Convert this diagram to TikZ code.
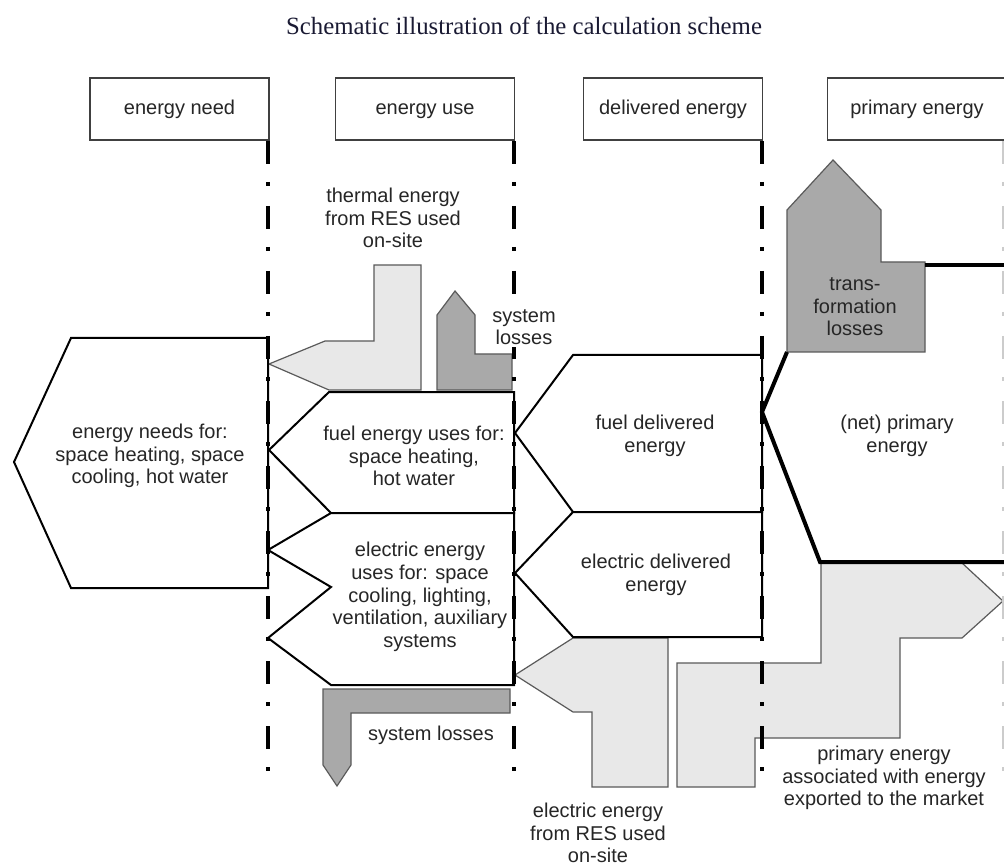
\documentclass[tikz,border=0pt]{standalone}
\usepackage{fontspec}
\setmainfont{Liberation Sans}
\newfontfamily\titlefont{Liberation Serif}
\usetikzlibrary{positioning}
\definecolor{sLight}{HTML}{E8E8E8}
\definecolor{sDark}{HTML}{A9A9A9}
\definecolor{sEdge}{HTML}{5A5A5A}
\definecolor{sTitle}{HTML}{1A1A33}

\begin{document}
\begin{tikzpicture}[
  x=0.5pt, y=-0.5pt,
  every node/.style={font=\fontsize{10}{11.3}\selectfont, align=center,
                     inner sep=0pt, text=black!85},
  hbox/.style={draw=black!75, line width=0.7pt, fill=white,
               minimum width=89.5pt, minimum height=31pt,
               text height=7.5pt, text depth=2.2pt},
  flowbox/.style={draw=black, line width=1pt, fill=white},
  netline/.style={draw=black, line width=2pt},
  lightflow/.style={draw=sEdge, line width=0.6pt, fill=sLight},
  lossflow/.style={draw=sEdge, line width=0.6pt, fill=sDark},
  boundary/.style={line width=2pt,
                   dash pattern=on 11.5pt off 9pt on 2pt off 10pt},
]
  \fill[white] (0,0) rectangle (1004,865);
  \useasboundingbox (0,0) rectangle (1004,865);

  % Title
  \node[font=\titlefont\fontsize{12.4}{14}\selectfont, text=sTitle] (title)
    at (524,26) {Schematic illustration of the calculation scheme};

  % Headers
  \node[hbox] (hneed) at (179.5,109) {energy need};
  \node[hbox] (huse) at (425,109) {energy use};
  \node[hbox] (hdel) at (673,109) {delivered energy};
  \node[hbox] (hprim) at (917,109) {primary energy};

  % Renewable and loss flows
  \draw[lightflow] (421,390) -- (421,265) -- (374,265) -- (374,341)
    -- (325,341) -- (269,364) -- (329,390) -- cycle;
  \draw[lossflow] (437,390) -- (437,315) -- (455,291) -- (475,315)
    -- (475,354) -- (512,354) -- (512,390) -- cycle;
  \draw[lossflow] (323,689) -- (510,689) -- (510,713) -- (351,713)
    -- (351,765) -- (337,786) -- (323,765) -- cycle;
  \draw[lightflow] (515,675) -- (573,638) -- (668,638) -- (668,787)
    -- (592,787) -- (592,712) -- (573,712) -- cycle;
  \draw[lightflow] (677,787) -- (677,663) -- (821,663) -- (821,563)
    -- (962,563) -- (1003,601) -- (962,638) -- (900,638) -- (900,738)
    -- (755,738) -- (755,787) -- cycle;
  \draw[lossflow] (787,352) -- (787,210) -- (833,160) -- (881,210)
    -- (881,262) -- (925,262) -- (925,352) -- cycle;

  % Main flows
  \draw[flowbox] (268,338) -- (71,338) -- (14,462) -- (71,588)
    -- (268,588) -- cycle;
  \draw[flowbox] (514,392) -- (329,392) -- (269,450) -- (331,513)
    -- (514,513) -- cycle;
  \draw[flowbox] (514,513) -- (331,513) -- (268,550) -- (331,587)
    -- (268,638) -- (331,685) -- (514,685) -- cycle;
  \draw[flowbox] (762,355) -- (573,355) -- (515,433) -- (573,512)
    -- (762,512) -- cycle;
  \draw[flowbox] (762,512) -- (573,512) -- (515,573) -- (573,637)
    -- (762,637) -- cycle;
  \draw[netline] (1010,265) -- (925,265);
  \draw[netline] (787,352) -- (762,412) -- (820,562) -- (1010,562);

  % Boundaries
  \draw[boundary] (268,141) -- (268,772);
  \draw[boundary] (514,141) -- (514,772);
  \draw[boundary] (762,141) -- (762,772);
  \draw[boundary, black!20, line width=0.8pt] (1003,141) -- (1003,790);

  % Labels
  \node (need) at (150,456) {energy needs for:\\space heating, space\\cooling, hot water};
  \node (fueluse) at (414,456) {fuel energy uses for:\\space heating,\\hot water};
  \node (elecuse) at (420,597) {electric energy\\uses for: space\\cooling, lighting,\\ventilation, auxiliary\\systems};
  \node (fueldel) at (655,436) {fuel delivered\\energy};
  \node (elecdel) at (656,575) {electric delivered\\energy};
  \node (netprim) at (897,436) {(net) primary\\energy};
  \node (trloss) at (855,307) {trans-\\formation\\losses};
  \node (thres) at (393,218) {thermal energy\\from RES used\\on-site};
  \node[fill=white, inner sep=1pt] (sysup) at (524,327) {system\\losses};
  \node (syslow) at (431,735) {system losses};
  \node (elres) at (598,833) {electric energy\\from RES used\\on-site};
  \node (export) at (884,778) {primary energy\\associated with energy\\exported to the market};
\end{tikzpicture}
\end{document}
